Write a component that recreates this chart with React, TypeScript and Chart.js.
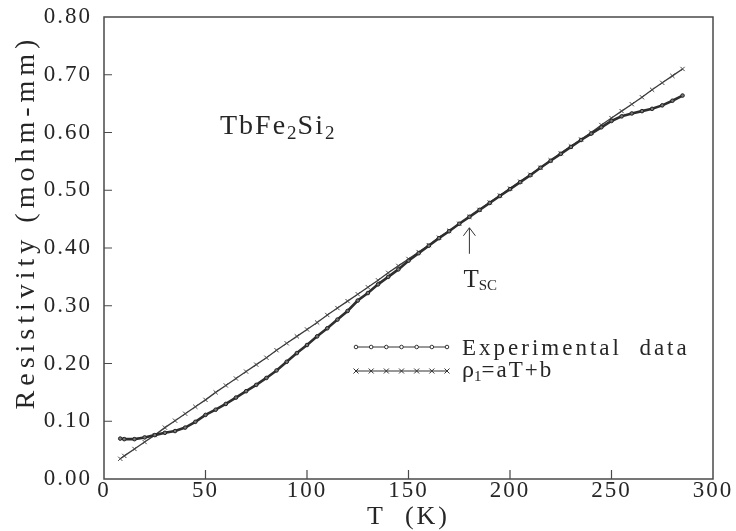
import React, { useEffect, useRef } from "react";
import { Chart, registerables } from "chart.js";

Chart.register(...registerables);

const SERIF = '"Liberation Serif", "Times New Roman", serif';
const INK = "#262626";

// Temperature (K)
const tempK = [
  8, 10, 15, 20, 25, 30, 35, 40, 45, 50, 55, 60, 65, 70, 75, 80, 85, 90, 95, 100,
  105, 110, 115, 120, 125, 130, 135, 140, 145, 150, 155, 160, 165, 170, 175, 180,
  185, 190, 195, 200, 205, 210, 215, 220, 225, 230, 235, 240, 245, 250, 255, 260,
  265, 270, 275, 280, 285,
];

// Experimental resistivity (mohm-mm)
const experimental = [
  0.07, 0.069, 0.069, 0.072, 0.076, 0.08, 0.083, 0.089, 0.099, 0.111, 0.12, 0.13,
  0.141, 0.152, 0.163, 0.175, 0.188, 0.203, 0.218, 0.232, 0.247, 0.261, 0.276,
  0.291, 0.309, 0.322, 0.337, 0.35, 0.363, 0.378, 0.391, 0.404, 0.417, 0.429,
  0.442, 0.454, 0.466, 0.478, 0.49, 0.502, 0.514, 0.526, 0.539, 0.551, 0.563,
  0.575, 0.587, 0.598, 0.609, 0.62, 0.628, 0.633, 0.637, 0.641, 0.647, 0.655,
  0.664,
];

// Linear fit rho1 = aT + b (mohm-mm)
const linearFit = [
  0.035, 0.04, 0.052, 0.064, 0.076, 0.089, 0.101, 0.113, 0.125, 0.137, 0.15,
  0.162, 0.174, 0.186, 0.198, 0.21, 0.223, 0.235, 0.247, 0.259, 0.271, 0.284,
  0.296, 0.308, 0.32, 0.332, 0.344, 0.357, 0.369, 0.381, 0.393, 0.405, 0.418,
  0.43, 0.442, 0.454, 0.466, 0.479, 0.491, 0.503, 0.515, 0.527, 0.539, 0.552,
  0.564, 0.576, 0.588, 0.6, 0.613, 0.625, 0.637, 0.649, 0.661, 0.674, 0.686,
  0.698, 0.71,
];

const xInnerTicks = [50, 100, 150, 200, 250];
const yInnerTicks = [0.1, 0.2, 0.3, 0.4, 0.5, 0.6, 0.7];

const yTitle = "Resistivity (mohm-mm)";
const xTitle = "T  (K)";
const legendExp = "Experimental  data";
const tscK = 180;
const tscRho = 0.435;

type Run = { t: string; size: number; dy: number; spacing: number };

function drawRuns(ctx: CanvasRenderingContext2D, runs: Run[], x: number, y: number) {
  let cx = x;
  for (const r of runs) {
    ctx.font = `${r.size}px ${SERIF}`;
    (ctx as any).letterSpacing = `${r.spacing}px`;
    ctx.fillText(r.t, cx, y + r.dy);
    cx += ctx.measureText(r.t).width;
  }
}

const decorPlugin = {
  id: "decor",
  beforeDraw(chart: any) {
    (chart.ctx as any).letterSpacing = "2px";
  },
  afterDraw(chart: any) {
    const ctx: CanvasRenderingContext2D = chart.ctx;
    const a = chart.chartArea;
    const xs = chart.scales.x;
    const ys = chart.scales.y;
    ctx.save();
    // frame
    ctx.strokeStyle = "#4a4a4a";
    ctx.lineWidth = 1.5;
    ctx.strokeRect(a.left, a.top, a.right - a.left, a.bottom - a.top);
    // inward ticks
    ctx.lineWidth = 1.2;
    ctx.beginPath();
    for (const v of xInnerTicks) {
      const px = xs.getPixelForValue(v);
      ctx.moveTo(px, a.bottom);
      ctx.lineTo(px, a.bottom - 9);
    }
    for (const v of yInnerTicks) {
      const py = ys.getPixelForValue(v);
      ctx.moveTo(a.left, py);
      ctx.lineTo(a.left + 8, py);
    }
    ctx.stroke();

    ctx.fillStyle = INK;
    ctx.textBaseline = "alphabetic";

    // y title
    ctx.save();
    ctx.translate(34, 222);
    ctx.rotate(-Math.PI / 2);
    ctx.textAlign = "center";
    ctx.font = `28px ${SERIF}`;
    (ctx as any).letterSpacing = "5px";
    ctx.fillText(yTitle, 0, 0);
    ctx.restore();

    // x title
    ctx.textAlign = "center";
    ctx.font = `26px ${SERIF}`;
    (ctx as any).letterSpacing = "3px";
    ctx.fillText(xTitle, (a.left + a.right) / 2, 524);

    ctx.textAlign = "left";
    // compound label
    drawRuns(
      ctx,
      [
        { t: "TbFe", size: 28, dy: 0, spacing: 2 },
        { t: "2", size: 19, dy: 5, spacing: 1 },
        { t: "Si", size: 28, dy: 0, spacing: 2 },
        { t: "2", size: 19, dy: 5, spacing: 1 },
      ],
      220,
      134
    );

    // Tsc arrow
    const ax = xs.getPixelForValue(tscK);
    const ay = ys.getPixelForValue(tscRho);
    ctx.strokeStyle = "#333";
    ctx.lineWidth = 1;
    ctx.beginPath();
    ctx.moveTo(ax, ay);
    ctx.lineTo(ax, ay + 26);
    ctx.moveTo(ax - 6, ay + 8);
    ctx.lineTo(ax, ay);
    ctx.lineTo(ax + 6, ay + 8);
    ctx.stroke();
    drawRuns(
      ctx,
      [
        { t: "T", size: 25, dy: 0, spacing: 0 },
        { t: "SC", size: 15, dy: 3, spacing: 0 },
      ],
      ax - 6,
      287
    );

    // legend
    const lx0 = 356;
    const lx1 = 447;
    const ly1 = 347;
    const ly2 = 371;
    ctx.strokeStyle = "#333";
    ctx.lineWidth = 1;
    ctx.beginPath();
    ctx.moveTo(lx0, ly1);
    ctx.lineTo(lx1, ly1);
    ctx.moveTo(lx0, ly2);
    ctx.lineTo(lx1, ly2);
    ctx.stroke();
    for (let i = 0; i < 7; i++) {
      const mx = lx0 + ((lx1 - lx0) * i) / 6;
      ctx.beginPath();
      ctx.arc(mx, ly1, 1.8, 0, Math.PI * 2);
      ctx.fillStyle = "#fff";
      ctx.fill();
      ctx.stroke();
      ctx.beginPath();
      ctx.moveTo(mx - 2.5, ly2 - 2.5);
      ctx.lineTo(mx + 2.5, ly2 + 2.5);
      ctx.moveTo(mx - 2.5, ly2 + 2.5);
      ctx.lineTo(mx + 2.5, ly2 - 2.5);
      ctx.stroke();
    }
    ctx.fillStyle = INK;
    ctx.font = `23px ${SERIF}`;
    (ctx as any).letterSpacing = "3px";
    ctx.fillText(legendExp, 462, 355);
    drawRuns(
      ctx,
      [
        { t: "\u03C1", size: 24, dy: 0, spacing: 0 },
        { t: "1", size: 15, dy: 4, spacing: 0 },
        { t: "=aT+b", size: 23, dy: 0, spacing: 2 },
      ],
      462,
      377
    );
    ctx.restore();
    (ctx as any).letterSpacing = "0px";
  },
};

export default function App() {
  const ref = useRef<HTMLCanvasElement>(null);
  useEffect(() => {
    if (!ref.current) return;
    const chart = new Chart(ref.current, {
      type: "scatter",
      data: {
        datasets: [
          {
            label: "Experimental data",
            data: tempK.map((t, i) => ({ x: t, y: experimental[i] })),
            showLine: true,
            borderColor: "#2e2e2e",
            borderWidth: 2.6,
            pointStyle: "circle",
            pointRadius: 1.8,
            pointBorderWidth: 1,
            pointBackgroundColor: "#777",
            pointBorderColor: "#222",
          },
          {
            label: "\u03C11=aT+b",
            data: tempK.map((t, i) => ({ x: t, y: linearFit[i] })),
            showLine: true,
            borderColor: "#3a3a3a",
            borderWidth: 1.3,
            pointStyle: "crossRot",
            pointRadius: 3,
            pointBorderWidth: 1,
            pointBorderColor: "#444",
          },
        ],
      },
      options: {
        responsive: false,
        animation: false,
        layout: { padding: { top: 17, right: 23, left: 0, bottom: 0 } },
        plugins: { legend: { display: false }, tooltip: { enabled: false } },
        scales: {
          x: {
            type: "linear",
            min: 0,
            max: 300,
            grid: { display: false, drawTicks: false },
            border: { display: false },
            ticks: {
              stepSize: 50,
              autoSkip: false,
              maxRotation: 0,
              padding: 0,
              color: INK,
              font: { family: SERIF, size: 23, lineHeight: 1 },
              callback: (v: any) => String(v),
            },
            afterFit: (s: any) => {
              s.height = 52;
              s.paddingLeft = 0;
              s.paddingRight = 0;
            },
          },
          y: {
            type: "linear",
            min: 0,
            max: 0.8,
            grid: { display: false, drawTicks: false },
            border: { display: false },
            ticks: {
              stepSize: 0.1,
              padding: 12,
              color: INK,
              font: { family: SERIF, size: 23 },
              callback: (v: any) => Number(v).toFixed(2),
            },
            afterFit: (s: any) => {
              s.width = 104;
              s.paddingTop = 0;
              s.paddingBottom = 0;
            },
          },
        },
      },
      plugins: [decorPlugin],
    });
    return () => chart.destroy();
  }, []);
  return (
    <div style={{ position: "absolute", left: 0, top: 0, width: 736, height: 531, background: "#fff" }}>
      <canvas ref={ref} width={736} height={531} />
    </div>
  );
}
